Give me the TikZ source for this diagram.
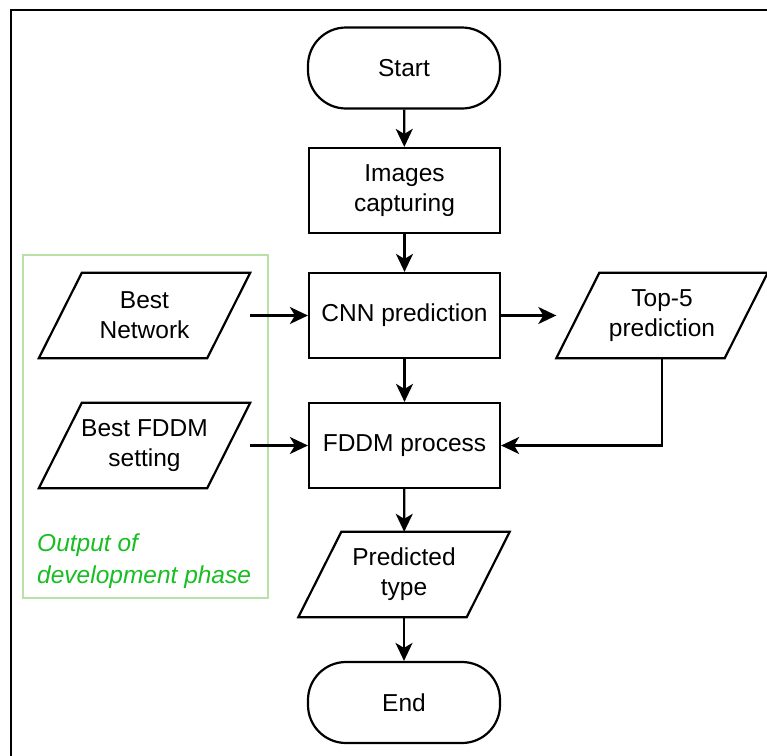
\documentclass[tikz,border=0pt]{standalone}
\usepackage{fontspec}
\setmainfont{Liberation Sans}
\usetikzlibrary{arrows.meta}
\definecolor{groupline}{RGB}{185,224,165}
\definecolor{grouptext}{RGB}{25,190,35}
\tikzset{
  flow/.style={line width=2.2pt, black},
  txt/.style={font=\fontsize{24.5}{30}\selectfont, align=center, inner sep=0pt},
  procbox/.style={txt, draw, flow, minimum width=191pt, minimum height=85pt},
  termbox/.style={txt, draw, flow, minimum width=192pt, minimum height=81pt, rounded corners=38pt},
  iobox/.style={txt, minimum width=211pt, minimum height=85pt},
  arr/.style={flow, -{Stealth[length=18pt,width=17pt,inset=5pt]}},
  groupbox/.style={draw=groupline, line width=1.6pt, minimum width=245pt, minimum height=343pt, inner sep=0pt},
  grouplabel/.style={font=\fontsize{24.5}{31.5}\selectfont\itshape, text=grouptext, align=left, inner sep=0pt},
}
\begin{document}
\begin{tikzpicture}[x=1pt,y=-1pt]
  \useasboundingbox (0,0) rectangle (767,755);
  \fill[white] (0,0) rectangle (767,755);

  % outer frame (runs off the right and bottom edges)
  \draw[line width=2.8pt] (11,775) -- (11,10) -- (780,10);

  % group of development-phase outputs
  \node[groupbox] (grp) at (145.5,426.5) {};
  \node[grouplabel, anchor=north west] (grplbl) at (37,534) {Output of\\development phase};

  % main flow
  \node[termbox] (start) at (404,68) {Start};
  \node[procbox] (img) at (404.5,190.5) {Images\\capturing};
  \node[procbox] (cnn) at (404.5,315.5) {CNN prediction};
  \node[procbox] (fddm) at (404.5,445.5) {FDDM process};
  \node[iobox] (pred) at (404,574.5) {Predicted\\type};
  \node[termbox] (end) at (404,702.5) {End};

  % side inputs and outputs
  \node[iobox] (bn) at (144.5,315.5) {Best\\Network};
  \node[iobox] (bf) at (144.5,445.5) {Best FDDM\\setting};
  \node[iobox] (top) at (662,315.5) {Top-5\\prediction};

  % parallelogram outlines for data nodes
  \foreach \n in {bn,bf,top,pred}
    \draw[flow, line join=miter] (\n.south west) -- ([xshift=-43pt]\n.south east)
      -- (\n.north east) -- ([xshift=43pt]\n.north west) -- cycle;

  % connectors
  \draw[arr] (start) -- (img);
  \draw[arr] (img) -- (cnn);
  \draw[arr] (cnn) -- (fddm);
  \draw[arr] (fddm) -- (pred);
  \draw[arr] (pred) -- (end);
  \draw[arr] (bn.east) -- (cnn.west);
  \draw[arr] (bf.east) -- (fddm.west);
  \draw[arr] (cnn.east) -- (top.west);
  \draw[arr] (top.south) |- (fddm.east);
\end{tikzpicture}
\end{document}
